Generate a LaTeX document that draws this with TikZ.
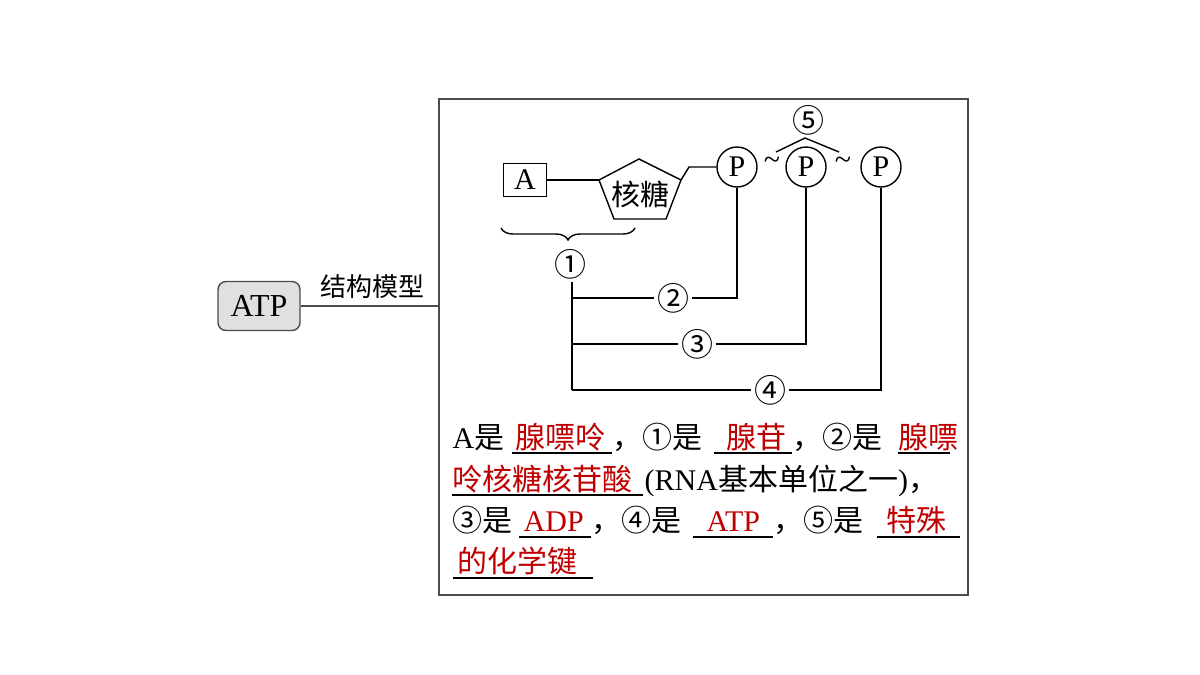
\documentclass[tikz,border=0pt]{standalone}
\usepackage{fontspec}
\setmainfont{Liberation Serif}
\newfontfamily\cjk{Noto Sans CJK SC}
\usetikzlibrary{decorations.pathreplacing}
\definecolor{ans}{RGB}{192,0,0}
\begin{document}
\begin{tikzpicture}[x=0.5pt,y=-0.5pt,line width=0.7pt,
  t/.style={inner sep=0,font=\fontsize{15}{16}\selectfont,anchor=base west},
  r/.style={t,text=ans},
  pc/.style={circle,draw,minimum size=20pt,inner sep=0,font=\fontsize{15}{16}\selectfont},
  lab/.style={fill=white,inner sep=1pt,font=\cjk\fontsize{16}{17}\selectfont},
  ul/.style={line width=0.6pt}]
\useasboundingbox (0,0) rectangle (1200,675);
% ATP root
\node[draw=black!70,fill=black!12,rounded corners=4pt,minimum width=41pt,minimum height=24.5pt,inner sep=0,font=\fontsize{16}{17}\selectfont] (atp) at (259,306) {ATP};
\node[draw=black!70,line width=0.8pt,minimum width=264.5pt,minimum height=248pt,inner sep=0,anchor=north west] (box) at (438,98) {};
\draw[black!70] (atp.east) -- (box.west |- atp.east) coordinate (be);
\node[inner sep=0,font=\cjk\fontsize{13}{14}\selectfont] (jg) at (372,287) {结构模型};
% structure
\node[draw,minimum width=21.5pt,minimum height=16.5pt,inner sep=0,font=\fontsize{15}{16}\selectfont] (A) at (525,180) {A};
\coordinate (p1) at (639,159); \coordinate (p2) at (599,180); \coordinate (p3) at (614,219);
\coordinate (p4) at (666,219); \coordinate (p5) at (681,180);
\draw (p1)--(p2)--(p3)--(p4)--(p5)--cycle;
\node[inner sep=0,font=\cjk\fontsize{14.5}{15}\selectfont] (sugar) at (640,194) {核糖};
\draw (A.east) -- (p2);
\node[pc] (P1) at (737,167) {P};
\node[pc] (P2) at (806,167) {P};
\node[pc] (P3) at (881,167) {P};
\draw (p5) -- (689,167) -- (P1.west);
\node[inner sep=0,font=\fontsize{15}{16}\selectfont] (t1) at (772,163) {\textasciitilde};
\node[inner sep=0,font=\fontsize{15}{16}\selectfont] (t2) at (843,163) {\textasciitilde};
\node[inner sep=0,font=\cjk\fontsize{16}{17}\selectfont] (c5) at (808,120) {⑤};
\draw (776,152) -- (805,138) -- (839,152);
\draw[decorate,decoration={brace,mirror,amplitude=6pt}] (501,228) -- (635,228);
\node[inner sep=0,font=\cjk\fontsize{16}{17}\selectfont] (c1) at (570,264) {①};
\coordinate (v0) at (572,282);
\coordinate (v4) at (572,390);
\draw (v0) -- (v4);
\node[lab] (c2) at (673,298) {②};
\node[lab] (c3) at (697,344) {③};
\node[lab] (c4) at (770,390) {④};
\draw (572,298) -- (c2.west); \draw (c2.east) -- (P1.south |- c2.east) -- (P1.south);
\draw (572,344) -- (c3.west); \draw (c3.east) -- (P2.south |- c3.east) -- (P2.south);
\draw (v4) -- (c4.west); \draw (c4.east) -- (P3.south |- c4.east) -- (P3.south);
% text
\node[t] (l1a) at (452,448) {A\cjk 是};
\node[r] (l1b) at (515,448) {\cjk 腺嘌呤};
\draw[ul] (512,453) -- (612,453);
\node[t] (l1c) at (612,448) {\cjk ，①是};
\node[r] (l1d) at (726,448) {\cjk 腺苷};
\draw[ul] (714,453) -- (792,453);
\node[t] (l1e) at (792,448) {\cjk ，②是};
\node[r] (l1f) at (898,448) {\cjk 腺嘌};
\draw[ul] (898,453) -- (950,453);
\node[r] (l2a) at (452,490) {\cjk 呤核糖核苷酸};
\draw[ul] (452,495) -- (643,495);
\node[t] (l2b) at (644,490) {(RNA{\cjk 基本单位之一})\cjk ，};
\node[t] (l3a) at (452,531) {\cjk ③是};
\node[r] (l3b) at (523,531) {ADP};
\draw[ul] (519,537) -- (591,537);
\node[t] (l3c) at (591,531) {\cjk ，④是};
\node[r] (l3d) at (706,531) {ATP};
\draw[ul] (693,537) -- (773,537);
\node[t] (l3e) at (773,531) {\cjk ，⑤是};
\node[r] (l3f) at (886,531) {\cjk 特殊};
\draw[ul] (877,537) -- (960,537);
\node[r] (l4a) at (457,572) {\cjk 的化学键};
\draw[ul] (453,578) -- (593,578);
\end{tikzpicture}
\end{document}
